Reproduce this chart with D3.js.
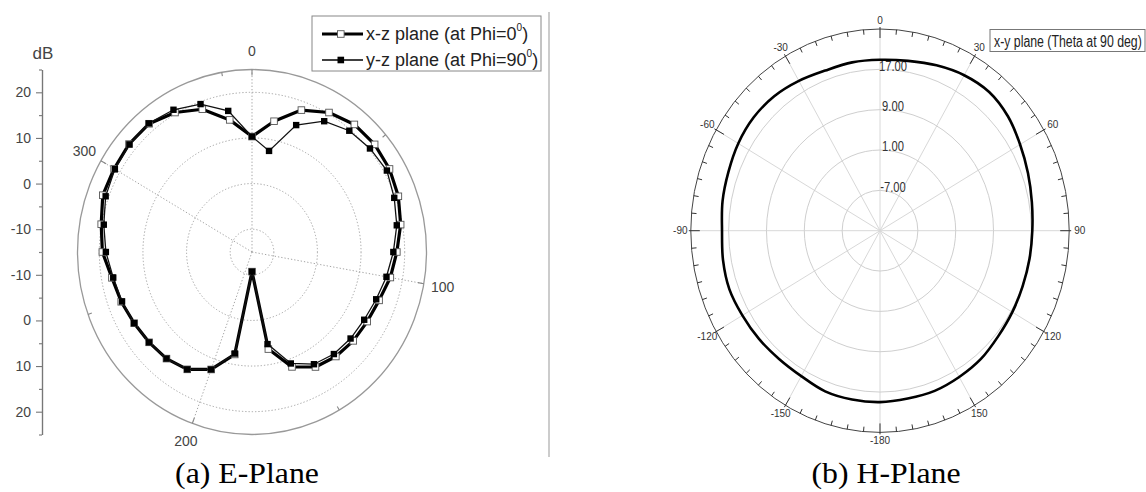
<!DOCTYPE html>
<html>
<head>
<meta charset="utf-8">
<script src="https://cdn.jsdelivr.net/npm/d3@7"></script>
<style>
  body { margin: 0; background: #fff; }
  svg { display: block; font-family: "Liberation Sans", Arial, sans-serif; }
</style>
</head>
<body>
<svg id="chart" width="1146" height="492"></svg>
<script>
// ---- (a) E-plane data, dB per angle (clockwise from top) ----
const ePlaneAngles = [0, 10, 20, 30, 40, 50, 60, 70, 80, 90, 100, 110, 120, 130, 140, 150, 160, 170,
  180, 190, 200, 210, 220, 230, 240, 250, 260, 270, 280, 290, 300, 310, 320, 330, 340, 350];
const xzPlaneDb = [10.3, 14.1, 18.1, 20.3, 21.5, 21.7, 21.4, 20.7, 19.6, 18.2, 17.2, 16.0, 15.5, 15.3, 14.9, 14.1, 11.8, 6.6,
  -10.7, 7.8, 12.4, 14.7, 15.5, 15.8, 16.2, 16.9, 17.6, 19.3, 20.1, 21.4, 21.5, 21.8, 21.7, 20.3, 18.3, 14.4];
const yzPlaneDb = [10.3, 7.5, 14.6, 18.1, 19.7, 20.3, 20.7, 19.7, 18.7, 17.4, 16.3, 15.3, 14.7, 14.5, 14.2, 13.4, 11.0, 5.5,
  -10.7, 7.6, 12.4, 14.7, 15.5, 15.8, 16.2, 16.7, 17.3, 18.5, 19.5, 20.7, 21.3, 21.7, 21.8, 21.0, 19.5, 16.4];
const eGridDb = [-10, 0, 10, 20];
const eDbLabels = [20, 10, 0, -10];
const eDbMinor = [25, 15, 5, -5, -15];
const eAngleLabels = [0, 100, 200, 300];
const eAngleMinor = [50, 150, 250, 350];

// ---- (b) H-plane data ----
const hPlaneAngles = [-180, -170, -160, -150, -140, -130, -120, -110, -100, -90, -80, -70, -60, -50, -40, -30, -20, -10,
  0, 10, 20, 30, 40, 50, 60, 70, 80, 90, 100, 110, 120, 130, 140, 150, 160, 170];
const hPlaneDb = [19.0, 19.0, 18.9, 18.3, 18.2, 18.4, 18.6, 18.9, 18.7, 18.4, 18.8, 19.1, 19.6, 19.9, 19.8, 19.3, 18.8, 18.9,
  18.9, 19.2, 19.9, 20.6, 20.9, 20.3, 19.2, 18.3, 17.6, 17.2, 17.1, 17.1, 17.3, 17.6, 18.2, 18.5, 18.8, 18.8];
const hRingDb = [-7, 1, 9, 17];
const hAngleLabels = [-180, -150, -120, -90, -60, -30, 0, 30, 60, 90, 120, 150];

const svg = d3.select('#chart');

// polar helper: ellipse-shaped frame (picture is slightly squashed)
function polar(frame, rScale) {
  const aScale = d3.scaleLinear().domain([0, 360]).range([0, 2 * Math.PI]);
  return (deg, db, pad = 0) => {
    const r = rScale(db), t = aScale(deg);
    return [frame.cx + (frame.rx * r + pad) * Math.sin(t), frame.cy - (frame.ry * r + pad) * Math.cos(t)];
  };
}

// =========================== (a) E-Plane ===========================
const E = { cx: 252, cy: 252, rx: 174.5, ry: 182.5 };
const eR = d3.scaleLinear().domain([-15, 25]).range([0, 1]);
const eP = polar(E, eR);
const gE = svg.append('g');

gE.selectAll('ellipse.grid').data(eGridDb).join('ellipse')
  .attr('cx', E.cx).attr('cy', E.cy)
  .attr('rx', d => E.rx * eR(d)).attr('ry', d => E.ry * eR(d))
  .attr('fill', 'none').attr('stroke', '#9a9a9a').attr('stroke-width', 0.9)
  .attr('stroke-dasharray', '1.3,2');

gE.selectAll('line.spoke').data(eAngleLabels).join('line')
  .attr('x1', E.cx).attr('y1', E.cy)
  .attr('x2', d => eP(d, 25)[0]).attr('y2', d => eP(d, 25)[1])
  .attr('stroke', '#9a9a9a').attr('stroke-width', 0.9).attr('stroke-dasharray', '1.3,2');

gE.append('ellipse')
  .attr('cx', E.cx).attr('cy', E.cy).attr('rx', E.rx).attr('ry', E.ry)
  .attr('fill', 'none').attr('stroke', '#999').attr('stroke-width', 1.3);

gE.selectAll('line.tick').data(eAngleLabels.map(a => [a, 6]).concat(eAngleMinor.map(a => [a, 4]))).join('line')
  .attr('x1', d => eP(d[0], 25)[0]).attr('y1', d => eP(d[0], 25)[1])
  .attr('x2', d => eP(d[0], 25, -d[1])[0]).attr('y2', d => eP(d[0], 25, -d[1])[1])
  .attr('stroke', '#888').attr('stroke-width', 1.1);

gE.selectAll('text.alab').data(eAngleLabels).join('text')
  .attr('x', d => eP(d, 25, 19)[0]).attr('y', d => eP(d, 25, 19)[1])
  .attr('text-anchor', 'middle').attr('dominant-baseline', 'central')
  .attr('font-size', 14).attr('fill', '#444').text(d => d);

// radial dB axis on the left, mirrored above/below the centre
const yUp = d3.scaleLinear().domain([-15, 25]).range([E.cy, E.cy - E.ry]);
const yDown = d3.scaleLinear().domain([-15, 25]).range([E.cy, E.cy + E.ry]);
const axisX = 42;
[yUp, yDown].forEach(sc => {
  const ga = gE.append('g').attr('transform', `translate(${axisX},0)`)
    .call(d3.axisLeft(sc).tickValues(eDbLabels).tickSize(6).tickSizeOuter(0).tickPadding(5)
      .tickFormat(d => String(d)));
  ga.append('g').call(d3.axisLeft(sc).tickValues(eDbMinor).tickSize(3).tickSizeOuter(0).tickFormat(''));
  ga.selectAll('path.domain').attr('stroke', '#777').attr('stroke-width', 1.2);
  ga.selectAll('.tick line').attr('stroke', '#777').attr('stroke-width', 1.1);
  ga.selectAll('.tick text').attr('font-size', 14).attr('fill', '#444')
    .attr('font-family', '"Liberation Sans", Arial, sans-serif');
});
gE.append('text').attr('x', 43).attr('y', 53).attr('text-anchor', 'middle').attr('dominant-baseline', 'central')
  .attr('font-size', 17).attr('fill', '#444').text('dB');

// series
const eLine = d3.line().curve(d3.curveLinearClosed);
const xzPts = ePlaneAngles.map((a, i) => eP(a, xzPlaneDb[i]));
const yzPts = ePlaneAngles.map((a, i) => eP(a, yzPlaneDb[i]));

gE.append('path').attr('d', eLine(xzPts)).attr('fill', 'none').attr('stroke', '#000').attr('stroke-width', 3.2)
  .attr('stroke-linejoin', 'round');
gE.selectAll('rect.xz').data(xzPts).join('rect')
  .attr('x', d => d[0] - 3.3).attr('y', d => d[1] - 3.3).attr('width', 6.6).attr('height', 6.6)
  .attr('fill', '#fff').attr('stroke', '#555').attr('stroke-width', 0.9);

gE.append('path').attr('d', eLine(yzPts)).attr('fill', 'none').attr('stroke', '#111').attr('stroke-width', 1.3);
gE.selectAll('rect.yz').data(yzPts).join('rect')
  .attr('x', d => d[0] - 3.2).attr('y', d => d[1] - 3.2).attr('width', 6.4).attr('height', 6.4)
  .attr('fill', '#000');

// legend
const lg = gE.append('g');
lg.append('rect').attr('x', 312).attr('y', 16).attr('width', 229).attr('height', 55)
  .attr('fill', '#fff').attr('stroke', '#888').attr('stroke-width', 1);
[
  { y: 34, w: 3.2, open: true, label: 'x-z plane (at Phi=0', sup: '0' },
  { y: 60, w: 1.3, open: false, label: 'y-z plane (at Phi=90', sup: '0' }
].forEach(it => {
  lg.append('line').attr('x1', 322).attr('x2', 363).attr('y1', it.y).attr('y2', it.y)
    .attr('stroke', '#000').attr('stroke-width', it.w);
  lg.append('rect').attr('x', 337.5).attr('y', it.y - 3.3).attr('width', 6.6).attr('height', 6.6)
    .attr('fill', it.open ? '#fff' : '#000').attr('stroke', it.open ? '#555' : 'none').attr('stroke-width', 0.9);
  const t = lg.append('text').attr('x', 366).attr('y', it.y).attr('dominant-baseline', 'central')
    .attr('font-size', 18).attr('fill', '#222');
  t.append('tspan').text(it.label);
  t.append('tspan').attr('font-size', 10).attr('dy', -7).text(it.sup);
  t.append('tspan').attr('dy', 7).text(')');
});

// separator
svg.append('line').attr('x1', 549).attr('x2', 549).attr('y1', 12).attr('y2', 457)
  .attr('stroke', '#999').attr('stroke-width', 1);

// =========================== (b) H-Plane ===========================
const H = { cx: 880, cy: 230.7, rx: 189.2, ry: 201.7 };
const hR = d3.scaleLinear().domain([-15, 25]).range([0, 1]);
const hP = polar(H, hR);
const gH = svg.append('g');

gH.selectAll('line.spoke').data(hAngleLabels).join('line')
  .attr('x1', H.cx).attr('y1', H.cy)
  .attr('x2', d => hP(d, 25)[0]).attr('y2', d => hP(d, 25)[1])
  .attr('stroke', '#d8d8d8').attr('stroke-width', 1);

gH.selectAll('ellipse.ring').data(hRingDb).join('ellipse')
  .attr('cx', H.cx).attr('cy', H.cy)
  .attr('rx', d => H.rx * hR(d)).attr('ry', d => H.ry * hR(d))
  .attr('fill', 'none').attr('stroke', '#cfcfcf').attr('stroke-width', 1);

gH.append('ellipse').attr('cx', H.cx).attr('cy', H.cy).attr('rx', H.rx).attr('ry', H.ry)
  .attr('fill', 'none').attr('stroke', '#444').attr('stroke-width', 1);

const hTickAngles = d3.range(0, 360, 5);
gH.selectAll('line.tick').data(hTickAngles).join('line')
  .attr('x1', d => hP(d, 25, d % 30 === 0 ? 2 : 0)[0]).attr('y1', d => hP(d, 25, d % 30 === 0 ? 2 : 0)[1])
  .attr('x2', d => hP(d, 25, d % 30 === 0 ? -9 : -5)[0]).attr('y2', d => hP(d, 25, d % 30 === 0 ? -9 : -5)[1])
  .attr('stroke', '#333').attr('stroke-width', 1);

const hLabPad = d => 8.5 + 2 * Math.abs(Math.sin(d * Math.PI / 180));
gH.selectAll('text.alab').data(hAngleLabels).join('text')
  .attr('x', d => hP(d, 25, hLabPad(d))[0]).attr('y', d => hP(d, 25, hLabPad(d))[1])
  .attr('text-anchor', 'middle').attr('dominant-baseline', 'central')
  .attr('font-size', 10).attr('fill', '#333').text(d => d);

gH.selectAll('text.rlab').data(hRingDb).join('text')
  .attr('transform', d => `translate(${H.cx + 13},${H.cy - H.ry * hR(d) - 3}) scale(0.8,1)`)
  .attr('text-anchor', 'middle').attr('dominant-baseline', 'central')
  .attr('font-size', 14).attr('fill', '#333').text(d => d.toFixed(2));

const hLine = d3.line().curve(d3.curveCatmullRomClosed);
gH.append('path').attr('d', hLine(hPlaneAngles.map((a, i) => hP(a, hPlaneDb[i]))))
  .attr('fill', 'none').attr('stroke', '#000').attr('stroke-width', 2.6);

gH.append('rect').attr('x', 990).attr('y', 29.5).attr('width', 155).attr('height', 22)
  .attr('fill', '#fff').attr('stroke', '#777').attr('stroke-width', 1);
gH.append('text').attr('transform', 'translate(994,41) scale(0.77,1)')
  .attr('dominant-baseline', 'central').attr('font-size', 16).attr('fill', '#222')
  .text('x-y plane (Theta at 90 deg)');

// =========================== captions ===========================
[{ x: 247, t: '(a)  E-Plane' }, { x: 886, t: '(b) H-Plane' }].forEach(c => {
  svg.append('text').attr('transform', `translate(${c.x},483) scale(1.06,1)`)
    .attr('text-anchor', 'middle').attr('font-family', '"Liberation Serif", "Times New Roman", serif')
    .attr('font-size', 30).attr('fill', '#000').text(c.t);
});
</script>
</body>
</html>
